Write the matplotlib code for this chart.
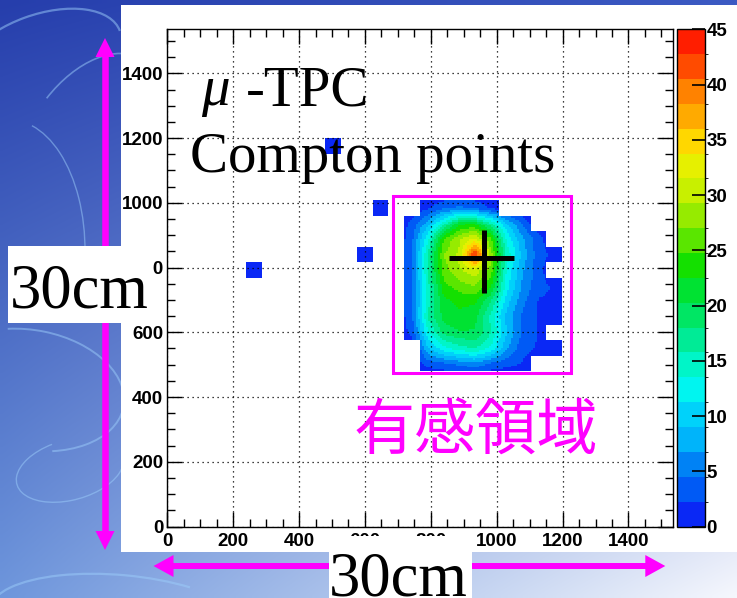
import numpy as np
import matplotlib
matplotlib.use("Agg")
import matplotlib.pyplot as plt
from matplotlib.colors import ListedColormap, BoundaryNorm
from matplotlib.patches import Rectangle, Polygon, Arc
from matplotlib.ticker import MultipleLocator
from matplotlib.transforms import Bbox, TransformedBbox

plt.rcParams["font.family"] = ["Liberation Sans", "DejaVu Sans"]
plt.rcParams["font.weight"] = "bold"

W, H = 737, 598

# 32 x 32 bins of 48 channels over 0..1536
n_bins = 32
axis_max = 1536

# Compton points in the scatterer, columns 15..24, rows from top (20) to bottom (10)
blob_col0 = 15
blob_rows = [20, 19, 18, 17, 16, 15, 14, 13, 12, 11, 10]
blob_counts = [
    [0, 2, 4, 5, 4, 2, 0, 0, 0, 0],
    [3, 8, 15, 22, 22, 16, 9, 4, 0, 0],
    [4, 13, 25, 29, 32, 25, 13, 7, 3, 0],
    [4, 16, 27, 30, 44, 28, 15, 8, 3, 2],
    [4, 16, 26, 29, 31, 26, 13, 7, 3, 0],
    [4, 15, 24, 26, 27, 23, 12, 6, 3, 2],
    [4, 15, 22, 23, 23, 18, 10, 5, 2, 2],
    [4, 16, 21, 22, 21, 15, 8, 4, 2, 2],
    [3, 13, 19, 20, 20, 16, 9, 4, 2, 0],
    [0, 9, 13, 15, 16, 13, 7, 3, 2, 2],
    [0, 3, 4, 5, 6, 4, 3, 2, 0, 0],
]

# stray single hits outside the scatterer
lone_x = [264, 504, 600, 648]
lone_y = [792, 1176, 840, 984]
lone_w = [1, 1, 1, 1]

z_levels = np.linspace(0, 45, 21)
z_ticks = np.arange(0, 46, 5)
palette = ["#0a28f5", "#005af5", "#0082f5", "#00b4fa", "#00d2fa",
           "#00f5f0", "#00f5c8", "#00eb96", "#00e664", "#00e232",
           "#14e000", "#5ae600", "#96eb00", "#c8f000", "#e6f000",
           "#ffd700", "#ffaa00", "#ff8200", "#ff4b00", "#ff1e00"]

MAGENTA = "#ff00ff"


def shade(z, k=8):
    """bilinear shading inside filled bins, empty bins left blank"""
    n = z.shape[0]
    c = np.arange(n) + 0.5
    f = (np.arange(n * k) + 0.5) / k
    rows = np.array([np.interp(f, c, r) for r in z])
    fine = np.array([np.interp(f, c, col) for col in rows.T]).T
    filled = np.repeat(np.repeat(z > 0, k, axis=0), k, axis=1)
    return np.ma.masked_where(~filled, fine)


counts = np.zeros((n_bins, n_bins))
for r, row in zip(blob_rows, blob_counts):
    counts[r, blob_col0:blob_col0 + len(row)] = row
lone, _, _ = np.histogram2d(lone_y, lone_x, bins=n_bins,
                            range=[[0, axis_max], [0, axis_max]], weights=lone_w)
counts += lone

fig = plt.figure(figsize=(W / 100, H / 100), dpi=100)

# slide background
bg = fig.add_axes([0, 0, 1, 1], zorder=0)
bg.set_xlim(0, W)
bg.set_ylim(H, 0)
bg.axis("off")
yy, xx = np.mgrid[0:1:120j, 0:1:150j]
c_tl = np.array([38, 62, 172]) / 255
c_tr = np.array([60, 90, 195]) / 255
c_bl = np.array([110, 150, 220]) / 255
c_br = np.array([245, 247, 253]) / 255
grad = (c_tl * ((1 - xx) * (1 - yy))[..., None] + c_tr * (xx * (1 - yy))[..., None]
        + c_bl * ((1 - xx) * yy)[..., None] + c_br * (xx * yy)[..., None])
bg.imshow(grad, extent=(0, W, H, 0), aspect="auto", interpolation="bilinear")
for (cx, cy, w, h, ang, t1, t2, lw) in [(40, 60, 170, 90, -20, 180, 360, 1.6),
                                        (90, 150, 130, 210, 30, 200, 340, 1.2),
                                        (30, 390, 190, 120, 10, 240, 420, 1.4),
                                        (70, 470, 110, 60, -15, 0, 250, 1.0),
                                        (10, 250, 150, 260, 0, 280, 400, 1.0),
                                        (120, 620, 260, 90, 5, 180, 330, 1.6)]:
    bg.add_patch(Arc((cx, cy), w, h, angle=ang, theta1=t1, theta2=t2,
                     color="#9ccdfa", lw=lw, alpha=0.5))
bg.add_patch(Rectangle((121, 5), W - 121, 547, facecolor="white", edgecolor="none"))

# histogram frame
ax = fig.add_axes([167.3 / W, 1 - 526.5 / H, 506 / W, 497.2 / H], zorder=1)
cmap = ListedColormap(palette)
norm = BoundaryNorm(z_levels, cmap.N)
im = ax.imshow(shade(counts), origin="lower", extent=(0, axis_max, 0, axis_max),
               cmap=cmap, norm=norm, interpolation="nearest", aspect="auto", zorder=0)
ax.set_xlim(0, axis_max)
ax.set_ylim(0, axis_max)
ax.set_xticks(np.arange(0, 1401, 200))
ax.set_yticks(np.arange(0, 1401, 200))
ax.xaxis.set_minor_locator(MultipleLocator(50))
ax.yaxis.set_minor_locator(MultipleLocator(50))
ax.tick_params(which="both", direction="in", top=True, right=True, width=1.0,
               labelsize=13.5)
ax.tick_params(which="major", length=10.8)
ax.tick_params(which="minor", length=6)
ax.tick_params(axis="x", pad=4.5)
ax.tick_params(axis="y", pad=3)
for s in ax.spines.values():
    s.set_linewidth(1.0)
ax.grid(True, which="major", color="black", linestyle=(0, (1, 3)), linewidth=0.9)

# labels are cut where the picture ends
panel = TransformedBbox(Bbox([[121.5 / W, 0], [1, 1]]), fig.transFigure)
for t in ax.yaxis.get_major_ticks():
    t.label1.set_clip_box(panel)
    t.label1.set_clip_on(True)

# sensitive region and source position
ax.add_patch(Rectangle((684, 475), 1225 - 684, 1021 - 475, fill=False,
                       edgecolor=MAGENTA, lw=2.2, zorder=3))
ax.plot([856, 1052], [830, 830], color="black", lw=3.6, solid_capstyle="butt", zorder=4)
ax.plot([961, 961], [720, 916], color="black", lw=3.6, solid_capstyle="butt", zorder=4)

serif = "Liberation Serif"
ax.text(104, 1302, "\u03bc", family=serif, style="italic", weight="normal",
        fontsize=41, ha="left", va="baseline", zorder=5)
ax.text(239, 1302, "-TPC", family=serif, weight="normal",
        fontsize=41, ha="left", va="baseline", zorder=5)
ax.text(68, 1096, "Compton points", family=serif, weight="normal",
        fontsize=41, ha="left", va="baseline", zorder=5)
ax.text(937, 240, "有感領域", family=["Noto Sans CJK JP", "DejaVu Sans"],
        weight="normal", color=MAGENTA, fontsize=44, ha="center", va="baseline",
        zorder=5)

# colour scale
cax = fig.add_axes([677.3 / W, 1 - 526.5 / H, 27.7 / W, 497.2 / H], zorder=1)
cb = fig.colorbar(im, cax=cax, ticks=z_ticks)
cb.outline.set_linewidth(1.0)
cax.tick_params(direction="in", length=9.4, width=1.2, labelsize=13.5, pad=1.2)

# size arrows and captions on top
ov = fig.add_axes([0, 0, 1, 1], zorder=3)
ov.set_xlim(0, W)
ov.set_ylim(H, 0)
ov.axis("off")

ov.plot([105, 105], [56, 532], color=MAGENTA, lw=4.7, solid_capstyle="butt")
ov.add_patch(Polygon([(105, 38), (95.5, 57), (114.5, 57)], closed=True,
                     facecolor=MAGENTA, edgecolor="none"))
ov.add_patch(Polygon([(105, 550), (95.5, 531), (114.5, 531)], closed=True,
                     facecolor=MAGENTA, edgecolor="none"))
ov.plot([172, 647], [566, 566], color=MAGENTA, lw=4.3, solid_capstyle="butt")
ov.add_patch(Polygon([(153.5, 566), (173.5, 555), (173.5, 577)], closed=True,
                     facecolor=MAGENTA, edgecolor="none"))
ov.add_patch(Polygon([(665.3, 566), (645.3, 555), (645.3, 577)], closed=True,
                     facecolor=MAGENTA, edgecolor="none"))

ov.add_patch(Rectangle((8.3, 246), 145, 77, facecolor="white", edgecolor="none", zorder=4))
ov.text(9.5, 307, "30cm", family=serif, weight="normal", fontsize=45,
        ha="left", va="baseline", zorder=5)
ov.add_patch(Rectangle((328.7, 535.5), 143, 63, facecolor="white", edgecolor="none", zorder=4))
ov.text(328.5, 596, "30cm", family=serif, weight="normal", fontsize=45,
        ha="left", va="baseline", zorder=5)

fig.savefig("out.png", dpi=100)
